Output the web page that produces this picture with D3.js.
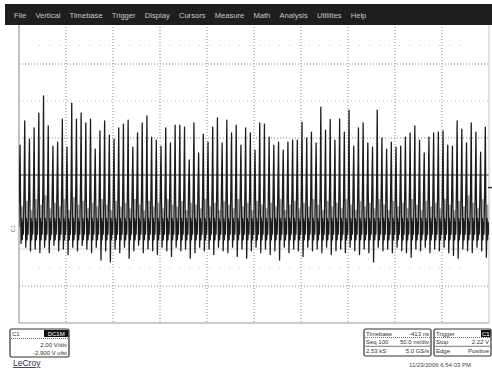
<!DOCTYPE html>
<html>
<head>
<meta charset="utf-8">
<script src="https://cdn.jsdelivr.net/npm/d3@7/dist/d3.min.js"></script>
<style>
  html, body { margin: 0; padding: 0; background: #fff; }
  svg { display: block; font-family: "Liberation Sans", Arial, sans-serif; }
</style>
</head>
<body>
<svg id="scope" width="492" height="373"></svg>
<script>
// ---- Channel C1 capture: pulse train, 2.00 V/div, 50 ns/div ----
const menuItems = ["File", "Vertical", "Timebase", "Trigger", "Display", "Cursors",
                   "Measure", "Math", "Analysis", "Utilities", "Help"];

// peak voltage of each pulse (V), left to right
const peaks = [
  4.52, 5.82, 4.84, 5.44, 6.25, 7.17, 5.55, 4.46, 4.68, 5.92,
  4.41, 6.79, 5.92, 6.25, 5.71, 5.92, 4.30, 5.28, 5.82, 5.06,
  4.84, 5.44, 5.65, 5.87, 4.41, 5.17, 5.71, 6.09, 4.95, 4.79,
  4.46, 5.44, 4.63, 5.60, 5.60, 5.49, 3.71, 5.71, 4.09, 5.11,
  4.68, 5.49, 5.98, 4.63, 5.87, 5.17, 5.60, 4.52, 5.44, 5.17,
  4.25, 5.71, 5.65, 4.95, 4.52, 4.68, 4.25, 4.68, 4.79, 4.79,
  5.76, 4.90, 5.22, 4.63, 6.57, 5.33, 5.90, 4.79, 5.92, 5.22,
  6.41, 4.46, 5.44, 5.71, 4.63, 4.41, 6.41, 4.90, 4.30, 4.68,
  4.41, 4.46, 4.95, 5.17, 5.55, 4.79, 4.09, 4.95, 5.17, 5.22,
  5.28, 4.52, 4.46, 5.82, 5.38, 4.63, 5.71, 5.22, 4.14, 5.49
];

// negative undershoot following each pulse (V)
const troughs = [
  -0.8, -1.0, -1.2, -1.1, -1.3, -1.0, -1.3, -0.9, -1.2, -1.1,
  -1.4, -1.0, -1.2, -0.9, -1.1, -1.3, -1.0, -1.7, -1.2, -1.8,
  -1.1, -1.3, -1.0, -1.6, -1.2, -0.9, -1.3, -1.1, -1.2, -1.4,
  -1.0, -1.2, -1.5, -1.0, -1.2, -1.1, -1.6, -1.3, -1.0, -1.2,
  -1.1, -1.4, -1.0, -1.2, -1.3, -1.0, -1.5, -1.1, -1.6, -1.2,
  -1.0, -1.3, -1.1, -1.4, -1.2, -1.7, -1.0, -1.3, -1.1, -1.2,
  -1.5, -1.0, -1.2, -1.1, -1.3, -1.0, -1.4, -1.2, -1.1, -1.3,
  -1.0, -1.2, -1.4, -1.1, -1.3, -1.8, -1.0, -1.2, -1.1, -1.3,
  -1.0, -1.2, -1.3, -1.55, -1.1, -1.2, -1.0, -1.3, -1.1, -1.2,
  -1.0, -1.3, -1.45, -1.6, -1.1, -1.2, -1.3, -1.0, -1.2, -1.55
];

// secondary ring-back level after each pulse (V)
const ringBack = [
  1.2, 1.5, 1.0, 1.6, 1.3, 1.8, 1.1, 1.4, 1.2, 1.6,
  1.0, 1.7, 1.3, 1.5, 1.1, 1.4, 1.2, 1.6, 1.3, 1.0,
  1.5, 1.2, 1.4, 1.1, 1.6, 1.3, 1.0, 1.5, 1.2, 1.4,
  1.1, 1.6, 1.3, 1.2, 1.5, 1.0, 1.4, 1.3, 1.1, 1.6,
  1.2, 1.4, 1.0, 1.5, 1.3, 1.1, 1.6, 1.2, 1.4, 1.0,
  1.5, 1.3, 1.1, 1.4, 1.2, 1.6, 1.0, 1.3, 1.5, 1.1,
  1.4, 1.2, 1.6, 1.3, 1.0, 1.5, 1.2, 1.4, 1.1, 1.6,
  1.3, 1.0, 1.5, 1.2, 1.4, 1.1, 1.6, 1.3, 1.0, 1.5,
  1.2, 1.4, 1.1, 1.6, 1.3, 1.0, 1.5, 1.2, 1.4, 1.1,
  1.6, 1.3, 1.0, 1.5, 1.2, 1.8, 1.4, 1.1, 1.6, 1.3
];

// small ringing levels repeated between pulses (V)
const ringing = [0.55, -0.6, 0.35, -0.3];

const pulsePeriod = 5.0;   // ns
const firstPulse = 0.3;    // ns

// acquisition settings shown in the readouts
const channelInfo = { name: "C1", coupling: "DC1M", scale: "2.00 V/div", offset: "-2.900 V ofst" };
const timebaseRows = [["Timebase", "-413 ns"], ["Seq 100", "50.0 ns/div"], ["2.53 kS", "5.0 GS/s"]];
const triggerRows = [["Trigger", "C1"], ["Stop", "2.22 V"], ["Edge", "Positive"]];
const triggerLevel = 2.22;  // V
const timestamp = "11/23/2006 6:54:03 PM";

// ---- layout ----
const svg = d3.select("#scope");
const W = 492, H = 373;
const plot = { left: 19, right: 489, top: 27, bottom: 323 };

const x = d3.scaleLinear().domain([0, 500]).range([plot.left, plot.right]);
const y = d3.scaleLinear().domain([-5.1, 10.9]).range([plot.bottom, plot.top]);

svg.append("rect").attr("width", W).attr("height", H).attr("fill", "#fff");

// menu bar
svg.append("rect").attr("x", 5).attr("y", 4).attr("width", W - 5).attr("height", 21)
  .attr("fill", "#1e1e1e");
let mx = 14;
menuItems.forEach(m => {
  const t = svg.append("text").attr("x", mx).attr("y", 17.5)
    .attr("font-size", 7.6).attr("fill", "#c8c8c8").text(m);
  mx += t.node().getComputedTextLength() + 9.2;
});

// graticule
const grid = svg.append("g");
const vTicks = d3.range(0, 501, 50);
const hTicks = d3.range(0, 9).map(k => -5.1 + 2 * k);

grid.selectAll("line.v").data(vTicks.slice(1, -1)).join("line")
  .attr("x1", d => x(d)).attr("x2", d => x(d))
  .attr("y1", plot.top).attr("y2", plot.bottom)
  .attr("stroke", "#8a8a8a").attr("stroke-width", 1)
  .attr("stroke-dasharray", "1,2");

const hStyle = (k) => {
  if (k === 2) return { c: "#d4d4d4", d: null, w: 1 };
  if (k === 4) return { c: "#3a3a3a", d: null, w: 1 };
  if (k === 6) return { c: "#bdbdbd", d: "1,3", w: 1 };
  return { c: "#8a8a8a", d: "1,2", w: 1 };
};
grid.selectAll("line.h").data(hTicks.slice(1, -1)).join("line")
  .attr("x1", plot.left).attr("x2", plot.right)
  .attr("y1", d => y(d)).attr("y2", d => y(d))
  .each(function (d, i) {
    const s = hStyle(i + 1);
    d3.select(this).attr("stroke", s.c).attr("stroke-width", s.w)
      .attr("stroke-dasharray", s.d);
  });

// faint sub-division dot rows
[9.9, -2.1].forEach(v => {
  grid.append("line").attr("x1", plot.left + 20).attr("x2", plot.right - 20)
    .attr("y1", y(v)).attr("y2", y(v))
    .attr("stroke", "#c9c9c9").attr("stroke-width", 1)
    .attr("stroke-dasharray", "1,9");
});

// frame
grid.append("line").attr("x1", plot.left).attr("x2", plot.left)
  .attr("y1", plot.top - 2).attr("y2", plot.bottom).attr("stroke", "#9a9a9a").attr("stroke-width", 1.2);
grid.append("line").attr("x1", plot.right).attr("x2", plot.right)
  .attr("y1", plot.top - 2).attr("y2", plot.bottom).attr("stroke", "#c4c4c4");
grid.append("line").attr("x1", plot.left).attr("x2", plot.right)
  .attr("y1", plot.bottom).attr("y2", plot.bottom).attr("stroke", "#9a9a9a").attr("stroke-width", 1.2);

// ---- waveform ----
svg.append("clipPath").attr("id", "clip").append("rect")
  .attr("x", plot.left).attr("y", plot.top)
  .attr("width", plot.right - plot.left).attr("height", plot.bottom - plot.top);

const trace = svg.append("g").attr("clip-path", "url(#clip)");

// lighter ring-back bars between the main spikes
trace.selectAll("line.ring").data(ringBack).join("line")
  .attr("x1", (d, i) => x(firstPulse + i * pulsePeriod + 2.9))
  .attr("x2", (d, i) => x(firstPulse + i * pulsePeriod + 2.9))
  .attr("y1", y(0)).attr("y2", d => y(d))
  .attr("stroke", "#a6a6a6").attr("stroke-width", 2.4);

const pts = [[0, 0.1]];
peaks.forEach((p, i) => {
  const t = firstPulse + i * pulsePeriod;
  pts.push([t - 0.5, 0.2], [t + 0.15, 2.4], [t + 0.8, p], [t + 1.25, 2.0],
           [t + 1.9, troughs[i]], [t + 2.6, ringing[0]], [t + 3.2, ringing[1]],
           [t + 3.8, ringing[2]], [t + 4.3, ringing[3]]);
});
pts.push([500, 0.1]);

trace.append("path").datum(pts)
  .attr("d", d3.line().x(d => x(d[0])).y(d => y(d[1])))
  .attr("fill", "none").attr("stroke", "#1c1c1c").attr("stroke-width", 1.3)
  .attr("stroke-linejoin", "round");

// ground marker for C1 and trigger level marker
svg.append("text").attr("transform", `translate(14.5,${y(0)}) rotate(-90)`)
  .attr("text-anchor", "middle").attr("font-size", 5.5).attr("fill", "#666").text("C1");
svg.append("line").attr("x1", plot.right - 1).attr("x2", W)
  .attr("y1", y(triggerLevel)).attr("y2", y(triggerLevel))
  .attr("stroke", "#333").attr("stroke-width", 1.4);

// ---- readouts ----
const fs = 6;
const chan = svg.append("g");
chan.append("rect").attr("x", 10).attr("y", 329).attr("width", 59).attr("height", 28)
  .attr("rx", 1.5).attr("fill", "#fff").attr("stroke", "#333").attr("stroke-width", 1.2);
chan.append("text").attr("x", 12).attr("y", 335.5).attr("font-size", fs).attr("fill", "#333").text(channelInfo.name);
chan.append("rect").attr("x", 44).attr("y", 330).attr("width", 24.5).attr("height", 7).attr("fill", "#111");
chan.append("text").attr("x", 56.2).attr("y", 335.8).attr("text-anchor", "middle")
  .attr("font-size", fs).attr("fill", "#fff").text(channelInfo.coupling);
chan.append("line").attr("x1", 11).attr("x2", 68).attr("y1", 338.5).attr("y2", 338.5)
  .attr("stroke", "#666").attr("stroke-dasharray", "1,1");
chan.append("text").attr("x", 67).attr("y", 346.5).attr("text-anchor", "end")
  .attr("font-size", fs).attr("fill", "#333").text(channelInfo.scale);
chan.append("text").attr("x", 67).attr("y", 355).attr("text-anchor", "end")
  .attr("font-size", fs).attr("fill", "#333").text(channelInfo.offset);

svg.append("text").attr("x", 13).attr("y", 366).attr("font-size", 8.5)
  .attr("fill", "#2a2a3a").attr("text-decoration", "underline").text("LeCroy");

function readout(x0, w, rows, badgeIndex) {
  const g = svg.append("g");
  g.append("rect").attr("x", x0).attr("y", 329).attr("width", w).attr("height", 27)
    .attr("rx", 1.5).attr("fill", "#fff").attr("stroke", "#333").attr("stroke-width", 1.2);
  g.append("line").attr("x1", x0 + 1).attr("x2", x0 + w - 1).attr("y1", 337.5).attr("y2", 337.5)
    .attr("stroke", "#666").attr("stroke-dasharray", "1,1");
  g.append("line").attr("x1", x0 + 1).attr("x2", x0 + w - 1).attr("y1", 346.3).attr("y2", 346.3)
    .attr("stroke", "#555").attr("stroke-width", 0.8);
  rows.forEach((r, i) => {
    const by = 335.5 + i * 8.7;
    g.append("text").attr("x", x0 + 2).attr("y", by).attr("font-size", fs).attr("fill", "#333").text(r[0]);
    if (i === badgeIndex) {
      g.append("rect").attr("x", x0 + w - 10).attr("y", 330).attr("width", 9.5).attr("height", 7).attr("fill", "#111");
      g.append("text").attr("x", x0 + w - 5.2).attr("y", by + 0.3).attr("text-anchor", "middle")
        .attr("font-size", fs).attr("fill", "#fff").text(r[1]);
    } else {
      g.append("text").attr("x", x0 + w - 2).attr("y", by).attr("text-anchor", "end")
        .attr("font-size", fs).attr("fill", "#333").text(r[1]);
    }
  });
}
readout(364, 67, timebaseRows, -1);
readout(434, 57, triggerRows, 0);

svg.append("text").attr("x", 440).attr("y", 367).attr("text-anchor", "middle")
  .attr("font-size", fs).attr("fill", "#444").text(timestamp);
</script>
</body>
</html>
